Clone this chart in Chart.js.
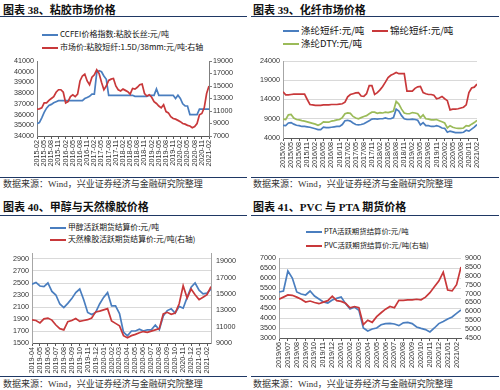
<!DOCTYPE html>
<html>
<head>
<meta charset="utf-8">
<script src="https://cdn.jsdelivr.net/npm/chart.js@4.4.1/dist/chart.umd.min.js"></script>
<style>
  body { margin: 0; width: 500px; height: 390px; position: relative; overflow: hidden; background: #fff;
         font-family: "Liberation Serif", "Noto Sans CJK SC", serif; color: #222; }
  .title { position: absolute; font-size: 11px; font-weight: bold; line-height: 1; white-space: nowrap; color: #111; }
  .rule { position: absolute; height: 1px; background: #1f3864; }
  .src { position: absolute; font-size: 9px; line-height: 1; white-space: nowrap; color: #333; }
  .lg { position: absolute; font-family: "Noto Sans CJK SC", sans-serif; line-height: 1; white-space: nowrap; color: #111; }
  .lg i { display: inline-block; width: 16px; height: 2px; vertical-align: middle; margin-right: 2px; }
  canvas { position: absolute; }
</style>
</head>
<body>

<!-- 图表 38 -->
<div class="title" style="left:3px;top:5px">图表 38、粘胶市场价格</div>
<div class="rule" style="left:0;top:16px;width:247px"></div>
<div class="lg" style="left:42px;top:30px;font-size:8px"><i style="background:#4a7ebf"></i>CCFEI价格指数:粘胶长丝:元/吨</div>
<div class="lg" style="left:42px;top:43px;font-size:8px"><i style="background:#c8383a"></i>市场价:粘胶短纤:1.5D/38mm:元/吨:右轴</div>
<canvas id="c1" width="250" height="120" style="left:0;top:55px"></canvas>
<div class="rule" style="left:0;top:177px;width:247px"></div>
<div class="src" style="left:3px;top:180px">数据来源：Wind，兴业证券经济与金融研究院整理</div>

<!-- 图表 39 -->
<div class="title" style="left:253px;top:5px">图表 39、化纤市场价格</div>
<div class="rule" style="left:251px;top:16px;width:248px"></div>
<div class="lg" style="left:283px;top:26px;font-size:9.5px"><i style="background:#4a7ebf"></i>涤纶短纤:元/吨</div>
<div class="lg" style="left:372px;top:26px;font-size:9.5px"><i style="background:#c8383a"></i>锦纶短纤:元/吨</div>
<div class="lg" style="left:283px;top:39px;font-size:9.5px"><i style="background:#9bbb59"></i>涤纶DTY:元/吨</div>
<canvas id="c2" width="250" height="120" style="left:250px;top:55px"></canvas>
<div class="rule" style="left:251px;top:177px;width:248px"></div>
<div class="src" style="left:253px;top:180px">数据来源：Wind，兴业证券经济与金融研究院整理</div>

<!-- 图表 40 -->
<div class="title" style="left:3px;top:202px">图表 40、甲醇与天然橡胶价格</div>
<div class="rule" style="left:0;top:215px;width:247px"></div>
<div class="lg" style="left:50px;top:223px;font-size:7.8px"><i style="background:#4a7ebf"></i>甲醇活跃期货结算价:元/吨</div>
<div class="lg" style="left:50px;top:235px;font-size:7.8px"><i style="background:#c8383a"></i>天然橡胶活跃期货结算价:元/吨(右轴)</div>
<canvas id="c3" width="250" height="127" style="left:0;top:248px"></canvas>
<div class="rule" style="left:0;top:376px;width:247px"></div>
<div class="src" style="left:3px;top:380px">数据来源：Wind，兴业证券经济与金融研究院整理</div>

<!-- 图表 41 -->
<div class="title" style="left:253px;top:202px">图表 41、PVC 与 PTA 期货价格</div>
<div class="rule" style="left:251px;top:215px;width:248px"></div>
<div class="lg" style="left:306px;top:227px;font-size:7.4px"><i style="background:#4a7ebf"></i>PTA活跃期货结算价:元/吨</div>
<div class="lg" style="left:306px;top:241px;font-size:7.4px"><i style="background:#c8383a"></i>PVC活跃期货结算价:元/吨(右轴)</div>
<canvas id="c4" width="250" height="125" style="left:250px;top:250px"></canvas>
<div class="rule" style="left:251px;top:376px;width:248px"></div>
<div class="src" style="left:253px;top:380px">数据来源：Wind，兴业证券经济与金融研究院整理</div>

<script>
// ---- chart 38: monthly, 2015-02 .. 2021-02
const labels38 = ['2015-02','2015-05','2015-08','2015-11','2016-02','2016-05','2016-08','2016-11','2017-02','2017-05','2017-08','2017-11','2018-02','2018-05','2018-08','2018-11','2019-02','2019-05','2019-08','2019-11','2020-02','2020-05','2020-08','2020-11','2021-02'];
const ticksLeft38 = [34000, 35000, 36000, 37000, 38000, 39000, 40000, 41000];
const ticksRight38 = [7000, 9000, 11000, 13000, 15000, 17000, 19000];
const ccfei = [35150,35250,35700,36200,36600,36850,36950,37100,37200,37300,
  37300,37300,37300,37300,37300,37300,37300,37300,37300,37300,
  37500,37600,37700,37900,37900,39900,40100,40000,39600,39300,
  37800,37800,37800,37800,37800,37800,37800,37800,37800,37800,
  37800,37700,37700,37700,37700,37700,37700,37800,37800,37800,
  38400,37800,37800,37800,37800,37800,37800,37800,37500,37800,
  37500,37000,36800,36800,36000,36000,36000,36000,36500,36500,
  36500,36500,36500];
const viscoseStaple = [11300,11350,11500,12300,12300,12700,13000,13300,14000,14400,
  14400,14000,12300,12500,13300,13600,13300,13700,15800,16600,
  16900,15800,15200,16400,16800,17600,17000,15600,14400,15000,
  15900,16100,16200,15000,14400,14200,14500,14300,14100,13700,
  14600,14500,14800,15200,15300,13800,13400,13600,13200,12500,
  12200,11800,11500,12000,10900,10700,10100,9800,9700,9500,
  9300,9000,8900,8700,8600,8330,8500,9000,10400,10600,
  11500,13800,15000];

// ---- chart 39: monthly, 2015/02 .. 2021/02
const labels39 = ['2015/02','2015/05','2015/08','2015/11','2016/02','2016/05','2016/08','2016/11','2017/02','2017/05','2017/08','2017/11','2018/02','2018/05','2018/08','2018/11','2019/02','2019/05','2019/08','2019/11','2020/02','2020/05','2020/08','2020/11','2021/02'];
const ticks39 = [4000, 9000, 14000, 19000, 24000];
const polyesterStaple = [7300,7200,7900,8000,7600,7300,7200,7000,7000,6900,
  6800,6600,6400,6200,6200,6800,6700,6700,6800,6900,
  7000,7000,7500,8500,8600,8400,7900,7500,7400,7500,
  7700,8100,8500,8900,9000,8900,9000,9000,9200,9000,
  9000,9300,11500,11000,9800,9000,8800,8800,8900,8800,
  8600,7400,8000,7200,7200,7000,7000,7200,7000,6600,
  6500,5500,5800,5600,5400,5400,5400,5500,6000,5800,
  6300,6800,7500];
const nylonStaple = [16000,15200,15200,15300,15400,15400,15400,15400,15400,14000,
  12700,12600,12500,12500,12500,12600,12600,12600,12700,12700,
  12700,12800,12900,13300,14700,15300,15500,15700,15800,14900,
  14800,15500,17600,17600,15300,15800,16500,17400,18500,19700,
  20300,20600,21000,20700,20700,20700,16200,16200,16200,16900,
  17300,17400,15800,15500,15300,15300,15100,14200,14400,14800,
  14200,13700,11300,11500,11500,11600,11800,12000,12600,15800,
  17000,17200,18000];
const polyesterDTY = [8900,8800,10000,10100,9200,8800,8700,8500,8400,8200,
  8000,7800,7600,7300,7600,8200,8100,8100,8400,8500,
  8700,8800,9300,10300,10500,10400,9600,9200,9000,9300,
  9600,9800,10300,10700,10700,10400,10600,10500,10700,10600,
  10800,11000,13500,12800,11500,10500,10300,10300,10600,10500,
  10300,9300,10000,9000,8900,8700,8700,8800,8500,8200,
  7900,6600,7200,6800,6600,6500,6500,6600,7200,7100,
  7600,8000,8600];

// ---- chart 40: half-month points, 2019-04 .. 2021-02
const labels40 = ['2019-04','2019-05','2019-06','2019-07','2019-08','2019-09','2019-10','2019-11','2019-12','2020-01','2020-02','2020-03','2020-04','2020-05','2020-06','2020-07','2020-08','2020-09','2020-10','2020-11','2020-12','2021-01','2021-02'];
const ticksLeft40 = [1500, 1700, 1900, 2100, 2300, 2500, 2700, 2900];
const ticksRight40 = [9000, 11000, 13000, 15000, 17000, 19000];
const methanol = [2480,2510,2450,2440,2500,2360,2300,2150,2090,2160,
  2240,2340,2400,2220,2010,1975,2010,2150,2260,2340,
  2120,2120,1990,1680,1620,1700,1700,1730,1700,1720,
  1720,1800,1720,1950,2040,2070,2000,2110,2080,2260,
  2430,2500,2380,2320,2330,2400];
const rubber = [11820,11750,11450,11950,12050,11800,11200,10750,10600,11600,
  11750,12000,11650,11750,11850,12050,12800,12900,13050,13200,
  11700,11400,11100,9900,9650,9900,10050,10250,10400,10300,
  10450,10600,10750,12550,12750,12500,12650,13800,16000,14500,
  15600,14900,14300,14600,14900,15900];

// ---- chart 41: half-month points, 2019/06 .. 2021/02
const labels41 = ['2019/06','2019/07','2019/08','2019/09','2019/10','2019/11','2019/12','2020/01','2020/02','2020/03','2020/04','2020/05','2020/06','2020/07','2020/08','2020/09','2020/10','2020/11','2020/12','2021/01','2021/02'];
const ticksLeft41 = [3000, 3500, 4000, 4500, 5000, 5500, 6000, 6500, 7000];
const ticksRight41 = [4500, 5000, 5500, 6000, 6500, 7000, 7500, 8000, 8500, 9000];
const pta = [5300,5350,6350,6000,5300,5200,5150,5350,5100,4950,
  4800,4750,4900,4980,5050,4720,4450,4550,4380,3500,
  3350,3450,3500,3660,3720,3730,3700,3620,3760,3780,
  3720,3550,3480,3420,3300,3500,3720,3830,3950,4050,
  4230,4400];
const pvc = [6680,6800,6920,6900,6800,6680,6520,6580,6500,6430,
  6520,6600,6850,6600,6560,6450,6200,6270,6200,5250,
  5500,5380,5700,5920,6120,6270,6200,6620,6620,6640,
  6650,6680,6650,6800,7050,7380,7700,8200,7200,7150,
  7500,8500];

const BLUE = '#4a7ebf', RED = '#c8383a', GREEN = '#9bbb59';
const tickFont = { family: '"Liberation Sans", Arial, sans-serif', size: 7.2 };

// months per point -> {x, y}
function pts(vals, step) {
  return vals.map((v, i) => ({ x: i * step, y: v }));
}

function line(vals, step, color, axis) {
  return { data: pts(vals, step), borderColor: color, borderWidth: 1.7, pointRadius: 0, tension: 0, yAxisID: axis };
}

function xScale(labels, every, max, h) {
  return {
    type: 'linear', min: 0, max: max,
    afterBuildTicks: s => { s.ticks = labels.map((l, i) => ({ value: i * every })); },
    afterFit: s => { s.height = h; s.paddingLeft = 0; s.paddingRight = 0; },
    ticks: { autoSkip: false, minRotation: 90, maxRotation: 90, padding: 1, color: '#333', font: tickFont,
      callback: (v, i) => labels[i] },
    grid: { drawOnChartArea: false, drawTicks: true, tickLength: 3, color: '#595959' },
    border: { color: '#595959' }
  };
}

function yScale(pos, min, max, vals, w, o) {
  return {
    type: 'linear', position: pos, min: min, max: max,
    afterBuildTicks: s => { s.ticks = vals.map(v => ({ value: v })); },
    afterFit: s => { s.width = w; s.paddingTop = 0; s.paddingBottom = 0; },
    ticks: { autoSkip: false, padding: o.pad || 3, color: '#333', font: tickFont, callback: v => String(v) },
    grid: { drawOnChartArea: !!o.grid, color: '#d9d9d9', drawTicks: !!o.tick, tickLength: 3, tickColor: '#7f7f7f' },
    border: { display: o.border !== false, color: o.borderColor || '#a6a6a6' }
  };
}

function make(id, datasets, scales, padding) {
  return new Chart(document.getElementById(id), {
    type: 'line',
    data: { datasets: datasets },
    options: {
      responsive: false,
      animation: false,
      devicePixelRatio: 1,
      layout: { padding: padding },
      plugins: { legend: { display: false }, tooltip: { enabled: false } },
      scales: scales
    }
  });
}

make('c1',
  [line(viscoseStaple, 1, RED, 'y1'), line(ccfei, 1, BLUE, 'y')],
  {
    x: xScale(labels38, 3, 72, 39),
    y: yScale('left', 34000, 41000, ticksLeft38, 37, { borderColor: '#7f7f7f' }),
    y1: yScale('right', 7000, 19000, ticksRight38, 41, { borderColor: '#7f7f7f', tick: true, pad: 1 })
  },
  { top: 6, left: 0, right: 0, bottom: 0 });

make('c2',
  [line(polyesterDTY, 1, GREEN, 'y'), line(nylonStaple, 1, RED, 'y'), line(polyesterStaple, 1, BLUE, 'y')],
  {
    x: xScale(labels39, 3, 72, 37),
    y: yScale('left', 4000, 24000, ticks39, 33, { grid: true })
  },
  { top: 6, left: 0, right: 23, bottom: 0 });

make('c3',
  [line(rubber, 0.5, RED, 'y1'), line(methanol, 0.5, BLUE, 'y')],
  {
    x: xScale(labels40, 1, 22.5, 32),
    y: yScale('left', 1500, 3000, ticksLeft40, 32, { grid: true }),
    y1: yScale('right', 9000, 20000, ticksRight40, 39, { pad: 5 })
  },
  { top: 5, left: 0, right: 0, bottom: 0 });

make('c4',
  [line(pvc, 0.5, RED, 'y1'), line(pta, 0.5, BLUE, 'y')],
  {
    x: xScale(labels41, 1, 20.5, 37),
    y: yScale('left', 3000, 7000, ticksLeft41, 29, { grid: true }),
    y1: yScale('right', 4500, 9000, ticksRight41, 39, { border: false, pad: 4 })
  },
  { top: 8, left: 0, right: 0, bottom: 0 });
</script>
</body>
</html>
